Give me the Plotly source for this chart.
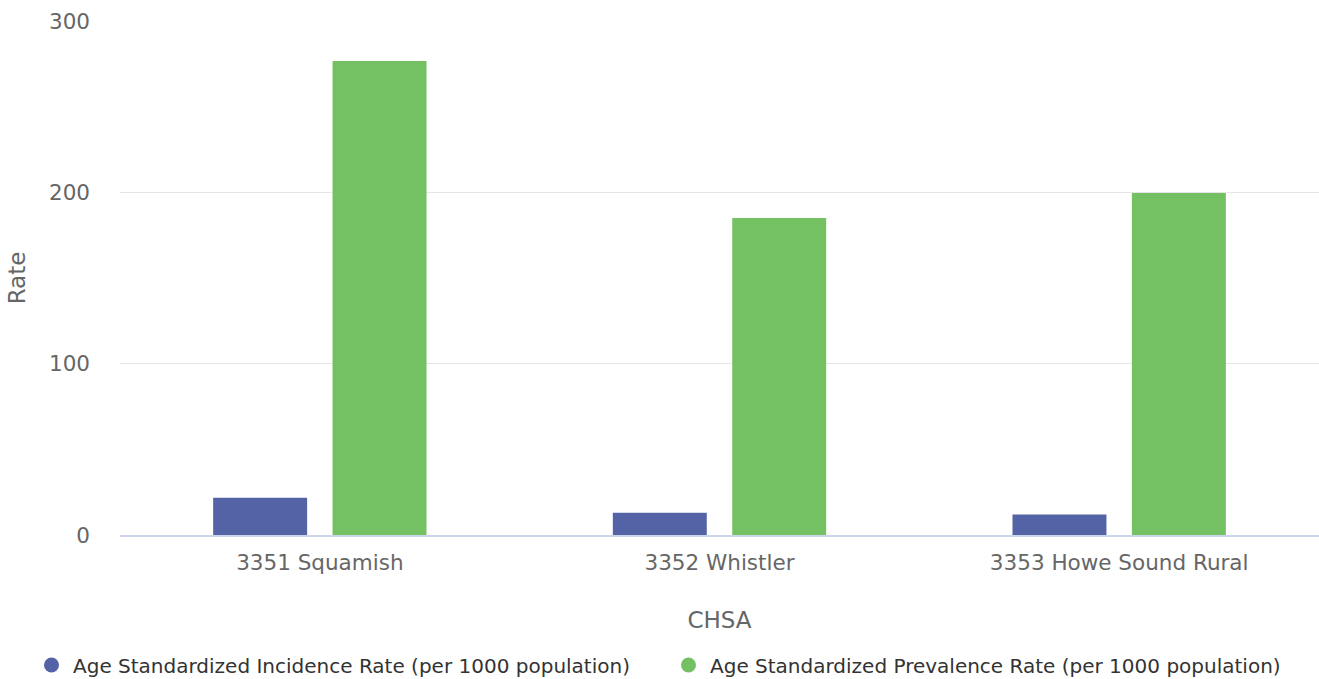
import plotly.graph_objects as go

categories = ["3351 Squamish", "3352 Whistler", "3353 Howe Sound Rural"]
incidence = [21.8, 13.0, 11.9]
prevalence = [276.7, 185.0, 199.6]
series_names = ["Age Standardized Incidence Rate (per 1000 population)",
                "Age Standardized Prevalence Rate (per 1000 population)"]
colors = ["#5363a6", "#74c163"]
y_ticks = [0, 100, 200, 300]

FONT = "DejaVu Sans"
W, H = 1319, 679

fig = go.Figure()
for name, vals, col in zip(series_names, [incidence, prevalence], colors):
    fig.add_trace(go.Bar(x=categories, y=vals, name=name, marker_color=col,
                         marker_line_width=0, showlegend=False))
legend_ids = ["legend", "legend2"]
for name, col, lg in zip(series_names, colors, legend_ids):
    fig.add_trace(go.Scatter(x=[None], y=[None], mode="markers", name=name, legend=lg,
                             marker=dict(symbol="circle", size=15, color=col)))

leg_common = dict(orientation="h", xref="container", yref="container",
                  y=1 - 665 / H, yanchor="middle", xanchor="left",
                  font=dict(family=FONT, size=20, color="#333333"),
                  itemsizing="trace", itemwidth=33, bgcolor="rgba(0,0,0,0)")

fig.update_layout(
    width=W, height=H,
    margin=dict(l=120, r=0, t=21, b=144),
    paper_bgcolor="white", plot_bgcolor="white",
    barmode="group", bargap=0.4025, bargroupgap=0.213,
    font=dict(family=FONT, size=20, color="#666666"),
    legend=dict(x=30 / W, **leg_common),
    legend2=dict(x=667 / W, **leg_common),
    xaxis=dict(showgrid=False, showline=True, linecolor="#ccd6eb", linewidth=2,
               ticks="", tickfont=dict(size=21.5, color="#666666"), ticklabelstandoff=7,
               title=dict(text="CHSA", font=dict(size=23, color="#666666"), standoff=38),
               range=[-0.5, 2.5]),
    yaxis=dict(range=[0, 300], tickvals=y_ticks, showgrid=True, gridcolor="#e6e6e6",
               gridwidth=1, zeroline=False, showline=False, ticks="",
               tickfont=dict(size=21.5, color="#666666"), ticklabelstandoff=29,
               title=dict(text="Rate", font=dict(size=23, color="#666666"), standoff=16)),
)

fig.write_html("out.html", config={"displayModeBar": False},
               post_script="document.body.style.margin='0';document.body.style.overflow='hidden';")
